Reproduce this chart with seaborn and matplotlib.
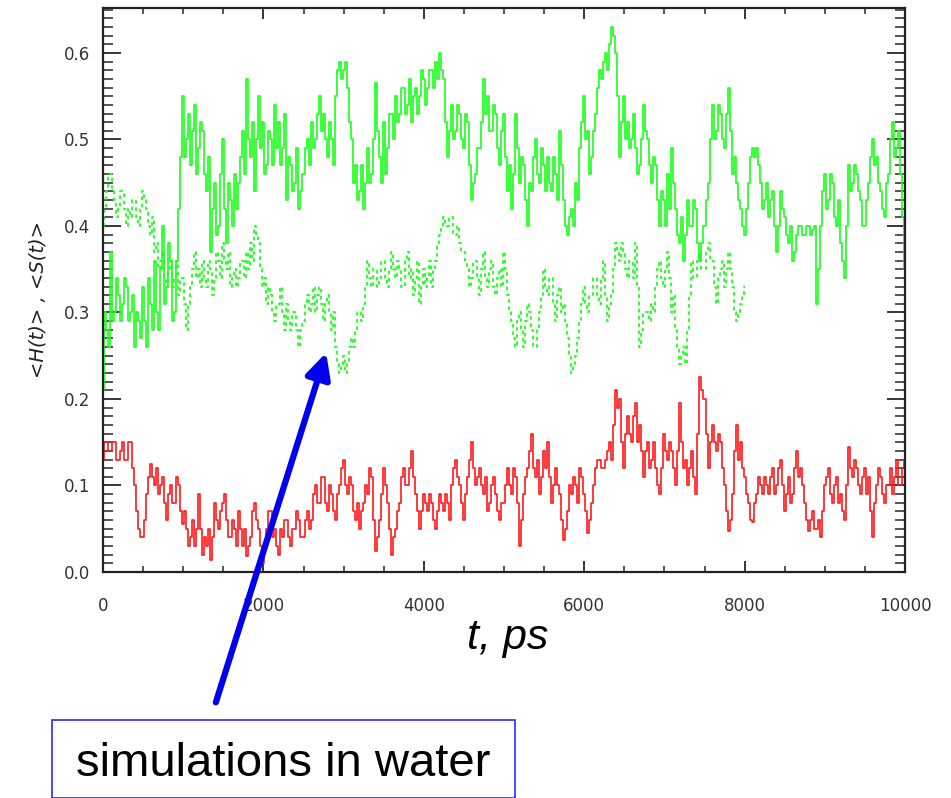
import numpy as np
import pandas as pd
import matplotlib
matplotlib.use("Agg")
import matplotlib.pyplot as plt
import seaborn as sns
from matplotlib.patches import Rectangle, FancyArrowPatch
from matplotlib.ticker import MultipleLocator

# time step of the traces (ps)
dt = 25

# green solid trace, 0..10000 ps
h_water = [
    0.21, 0.30, 0.28, 0.26, 0.37, 0.29, 0.30, 0.34, 0.32, 0.29, 0.31, 0.34, 0.33, 0.29, 0.30, 0.32, 0.26, 0.30, 0.29, 0.27,
    0.33, 0.29, 0.26, 0.34, 0.31, 0.28, 0.36, 0.30, 0.28, 0.35, 0.40, 0.31, 0.33, 0.38, 0.36, 0.29, 0.30, 0.36, 0.42, 0.48,
    0.55, 0.48, 0.50, 0.53, 0.47, 0.51, 0.54, 0.46, 0.49, 0.52, 0.51, 0.46, 0.44, 0.48, 0.37, 0.42, 0.45, 0.39, 0.40, 0.46,
    0.50, 0.42, 0.38, 0.45, 0.43, 0.40, 0.46, 0.42, 0.45, 0.48, 0.51, 0.46, 0.57, 0.50, 0.48, 0.52, 0.44, 0.50, 0.55, 0.49,
    0.52, 0.46, 0.47, 0.51, 0.50, 0.47, 0.54, 0.49, 0.52, 0.47, 0.49, 0.53, 0.43, 0.48, 0.47, 0.44, 0.45, 0.49, 0.42, 0.44,
    0.46, 0.49, 0.50, 0.47, 0.52, 0.49, 0.50, 0.53, 0.55, 0.51, 0.53, 0.50, 0.48, 0.52, 0.50, 0.47, 0.55, 0.58, 0.59, 0.57,
    0.58, 0.59, 0.56, 0.52, 0.50, 0.45, 0.47, 0.43, 0.44, 0.47, 0.42, 0.45, 0.49, 0.45, 0.46, 0.50, 0.565, 0.51, 0.48, 0.45,
    0.52, 0.46, 0.49, 0.53, 0.53, 0.50, 0.55, 0.52, 0.53, 0.56, 0.56, 0.53, 0.54, 0.57, 0.52, 0.55, 0.56, 0.53, 0.55, 0.58,
    0.57, 0.54, 0.56, 0.58, 0.58, 0.56, 0.59, 0.57, 0.60, 0.58, 0.57, 0.52, 0.48, 0.51, 0.54, 0.50, 0.51, 0.54, 0.53, 0.50,
    0.49, 0.53, 0.52, 0.47, 0.43, 0.45, 0.46, 0.49, 0.49, 0.52, 0.57, 0.53, 0.55, 0.51, 0.51, 0.54, 0.53, 0.49, 0.47, 0.51,
    0.53, 0.48, 0.44, 0.47, 0.42, 0.46, 0.53, 0.49, 0.45, 0.48, 0.47, 0.43, 0.40, 0.45, 0.44, 0.48, 0.50, 0.46, 0.45, 0.49,
    0.47, 0.44, 0.48, 0.45, 0.44, 0.48, 0.46, 0.43, 0.51, 0.47, 0.43, 0.40, 0.39, 0.41, 0.42, 0.40, 0.45, 0.43, 0.49, 0.52,
    0.55, 0.50, 0.51, 0.46, 0.48, 0.51, 0.53, 0.56, 0.58, 0.57, 0.59, 0.60, 0.58, 0.61, 0.63, 0.62, 0.60, 0.55, 0.48, 0.52,
    0.55, 0.50, 0.52, 0.49, 0.50, 0.53, 0.49, 0.46, 0.47, 0.50, 0.54, 0.51, 0.50, 0.47, 0.45, 0.48, 0.47, 0.43, 0.40, 0.44,
    0.43, 0.40, 0.46, 0.42, 0.49, 0.45, 0.42, 0.39, 0.38, 0.41, 0.36, 0.39, 0.43, 0.40, 0.40, 0.43, 0.42, 0.38, 0.36, 0.38,
    0.40, 0.43, 0.45, 0.50, 0.54, 0.50, 0.51, 0.54, 0.53, 0.50, 0.49, 0.53, 0.56, 0.51, 0.46, 0.48, 0.45, 0.43, 0.42, 0.40,
    0.39, 0.42, 0.45, 0.48, 0.49, 0.48, 0.49, 0.47, 0.45, 0.42, 0.43, 0.45, 0.41, 0.43, 0.44, 0.40, 0.37, 0.40, 0.44, 0.42,
    0.41, 0.39, 0.38, 0.40, 0.36, 0.37, 0.39, 0.40, 0.40, 0.39, 0.39, 0.40, 0.40, 0.39, 0.395, 0.40, 0.31, 0.35, 0.40, 0.44,
    0.46, 0.42, 0.43, 0.46, 0.45, 0.41, 0.40, 0.43, 0.38, 0.36, 0.34, 0.40, 0.47, 0.44, 0.45, 0.47, 0.46, 0.44, 0.43, 0.40,
    0.40, 0.43, 0.45, 0.48, 0.50, 0.47, 0.48, 0.45, 0.44, 0.42, 0.41, 0.45, 0.46, 0.50, 0.52, 0.48, 0.49, 0.51, 0.46, 0.41,
    0.35,
]

# green dotted trace, 0..8000 ps
s_water = [
    0.40, 0.42, 0.44, 0.46, 0.46, 0.44, 0.43, 0.41, 0.42, 0.44, 0.44, 0.42, 0.40, 0.42, 0.41, 0.43, 0.43, 0.41, 0.40, 0.42,
    0.44, 0.43, 0.42, 0.40, 0.39, 0.41, 0.37, 0.38, 0.35, 0.36, 0.37, 0.34, 0.33, 0.35, 0.36, 0.33, 0.34, 0.36, 0.32, 0.34,
    0.34, 0.31, 0.28, 0.31, 0.33, 0.35, 0.37, 0.34, 0.35, 0.33, 0.36, 0.34, 0.33, 0.36, 0.35, 0.32, 0.34, 0.37, 0.36, 0.34,
    0.38, 0.36, 0.35, 0.37, 0.33, 0.34, 0.35, 0.33, 0.34, 0.36, 0.36, 0.34, 0.37, 0.35, 0.38, 0.36, 0.40, 0.39, 0.38, 0.35,
    0.33, 0.34, 0.31, 0.33, 0.32, 0.30, 0.29, 0.31, 0.31, 0.33, 0.30, 0.28, 0.31, 0.29, 0.28, 0.30, 0.30, 0.28, 0.26, 0.28,
    0.29, 0.31, 0.32, 0.30, 0.31, 0.33, 0.30, 0.32, 0.33, 0.31, 0.29, 0.31, 0.32, 0.30, 0.28, 0.30, 0.26, 0.24, 0.23, 0.24,
    0.25, 0.23, 0.24, 0.26, 0.27, 0.26, 0.28, 0.30, 0.30, 0.29, 0.31, 0.33, 0.36, 0.34, 0.33, 0.35, 0.35, 0.33, 0.34, 0.36,
    0.36, 0.34, 0.33, 0.35, 0.37, 0.35, 0.34, 0.36, 0.35, 0.33, 0.33, 0.36, 0.37, 0.34, 0.35, 0.32, 0.34, 0.36, 0.31, 0.33,
    0.35, 0.33, 0.34, 0.36, 0.33, 0.35, 0.36, 0.38, 0.39, 0.40, 0.41, 0.40, 0.40, 0.41, 0.41, 0.39, 0.39, 0.40, 0.38, 0.37,
    0.37, 0.36, 0.35, 0.33, 0.34, 0.36, 0.36, 0.34, 0.32, 0.35, 0.37, 0.34, 0.33, 0.35, 0.36, 0.33, 0.32, 0.34, 0.35, 0.33,
    0.37, 0.35, 0.32, 0.30, 0.29, 0.27, 0.26, 0.29, 0.30, 0.28, 0.26, 0.29, 0.31, 0.30, 0.28, 0.26, 0.26, 0.28, 0.30, 0.32,
    0.35, 0.33, 0.32, 0.34, 0.34, 0.31, 0.29, 0.32, 0.33, 0.30, 0.31, 0.29, 0.27, 0.25, 0.23, 0.24, 0.25, 0.27, 0.29, 0.31,
    0.33, 0.31, 0.30, 0.32, 0.32, 0.34, 0.34, 0.32, 0.31, 0.34, 0.36, 0.32, 0.29, 0.31, 0.32, 0.35, 0.38, 0.37, 0.36, 0.38,
    0.37, 0.35, 0.34, 0.36, 0.36, 0.34, 0.38, 0.33, 0.26, 0.28, 0.30, 0.30, 0.30, 0.29, 0.31, 0.30, 0.33, 0.35, 0.36, 0.34,
    0.33, 0.35, 0.37, 0.34, 0.30, 0.32, 0.28, 0.26, 0.24, 0.25, 0.26, 0.24, 0.28, 0.32, 0.36, 0.34, 0.34, 0.36, 0.37, 0.35,
    0.35, 0.37, 0.38, 0.36, 0.36, 0.33, 0.31, 0.34, 0.35, 0.36, 0.33, 0.35, 0.37, 0.35, 0.33, 0.30, 0.29, 0.30, 0.31, 0.32,
    0.33,
]

# red solid trace, 0..10000 ps
h_other = [
    0.13, 0.15, 0.15, 0.14, 0.14, 0.15, 0.15, 0.13, 0.13, 0.14, 0.15, 0.13, 0.13, 0.15, 0.15, 0.12, 0.10, 0.07, 0.05, 0.04,
    0.04, 0.06, 0.09, 0.11, 0.125, 0.11, 0.10, 0.12, 0.09, 0.10, 0.11, 0.08, 0.06, 0.09, 0.10, 0.08, 0.08, 0.11, 0.10, 0.07,
    0.055, 0.07, 0.05, 0.03, 0.04, 0.06, 0.03, 0.05, 0.09, 0.05, 0.02, 0.04, 0.03, 0.05, 0.014, 0.04, 0.08, 0.06, 0.05, 0.07,
    0.08, 0.09, 0.06, 0.04, 0.04, 0.06, 0.05, 0.03, 0.07, 0.05, 0.03, 0.05, 0.018, 0.03, 0.04, 0.07, 0.08, 0.06, 0.05, 0.03,
    0.01, 0.03, 0.05, 0.07, 0.07, 0.04, 0.05, 0.03, 0.02, 0.05, 0.04, 0.06, 0.06, 0.04, 0.03, 0.05, 0.05, 0.07, 0.06, 0.04,
    0.04, 0.06, 0.07, 0.05, 0.06, 0.09, 0.10, 0.08, 0.08, 0.11, 0.11, 0.08, 0.07, 0.10, 0.09, 0.07, 0.06, 0.09, 0.10, 0.12,
    0.13, 0.10, 0.09, 0.11, 0.10, 0.07, 0.06, 0.08, 0.05, 0.07, 0.08, 0.10, 0.09, 0.12, 0.11, 0.06, 0.024, 0.04, 0.06, 0.09,
    0.12, 0.10, 0.08, 0.05, 0.02, 0.04, 0.05, 0.07, 0.08, 0.11, 0.12, 0.10, 0.10, 0.12, 0.14, 0.11, 0.09, 0.07, 0.05, 0.07,
    0.09, 0.08, 0.07, 0.09, 0.08, 0.06, 0.05, 0.07, 0.09, 0.08, 0.07, 0.09, 0.08, 0.06, 0.10, 0.12, 0.13, 0.11, 0.10, 0.08,
    0.06, 0.09, 0.11, 0.13, 0.15, 0.12, 0.10, 0.11, 0.12, 0.10, 0.09, 0.11, 0.07, 0.08, 0.10, 0.11, 0.09, 0.07, 0.06, 0.08,
    0.08, 0.10, 0.12, 0.10, 0.09, 0.12, 0.11, 0.08, 0.03, 0.06, 0.09, 0.11, 0.12, 0.14, 0.16, 0.12, 0.11, 0.13, 0.09, 0.11,
    0.14, 0.12, 0.15, 0.11, 0.08, 0.10, 0.12, 0.10, 0.09, 0.06, 0.037, 0.05, 0.07, 0.10, 0.09, 0.11, 0.10, 0.08, 0.12, 0.11,
    0.09, 0.07, 0.045, 0.06, 0.08, 0.10, 0.12, 0.13, 0.13, 0.12, 0.12, 0.13, 0.14, 0.15, 0.13, 0.17, 0.21, 0.19, 0.20, 0.15,
    0.12, 0.16, 0.18, 0.16, 0.15, 0.18, 0.195, 0.15, 0.17, 0.14, 0.11, 0.14, 0.15, 0.12, 0.13, 0.15, 0.12, 0.10, 0.09, 0.12,
    0.16, 0.14, 0.13, 0.15, 0.14, 0.12, 0.10, 0.14, 0.195, 0.15, 0.12, 0.13, 0.10, 0.12, 0.14, 0.11, 0.09, 0.16, 0.226, 0.21,
    0.20, 0.16, 0.12, 0.15, 0.17, 0.15, 0.14, 0.16, 0.15, 0.12, 0.10, 0.07, 0.047, 0.06, 0.09, 0.14, 0.17, 0.13, 0.15, 0.12,
    0.11, 0.09, 0.08, 0.06, 0.058, 0.08, 0.09, 0.11, 0.10, 0.09, 0.11, 0.10, 0.09, 0.11, 0.12, 0.09, 0.10, 0.12, 0.13, 0.10,
    0.07, 0.09, 0.11, 0.08, 0.09, 0.12, 0.14, 0.11, 0.12, 0.10, 0.08, 0.06, 0.047, 0.06, 0.07, 0.05, 0.05, 0.06, 0.041, 0.07,
    0.10, 0.11, 0.12, 0.09, 0.08, 0.10, 0.11, 0.08, 0.09, 0.07, 0.06, 0.10, 0.145, 0.12, 0.11, 0.13, 0.12, 0.10, 0.09, 0.11,
    0.12, 0.09, 0.11, 0.07, 0.041, 0.08, 0.10, 0.12, 0.11, 0.09, 0.08, 0.10, 0.10, 0.12, 0.09, 0.11, 0.13, 0.10, 0.10, 0.12,
    0.13,
]

x_ticks = [0, 2000, 4000, 6000, 8000, 10000]
y_ticks = [0.0, 0.1, 0.2, 0.3, 0.4, 0.5, 0.6]

W, H = 951, 798

sns.set_style("white")
fig = plt.figure(figsize=(W / 100, H / 100), dpi=100)
ax = fig.add_axes([103 / W, 1 - 572 / H, (905 - 103) / W, (572 - 8) / H])

df_h = pd.DataFrame({"t": np.arange(len(h_water)) * dt, "v": h_water})
df_s = pd.DataFrame({"t": np.arange(len(s_water)) * dt, "v": s_water})
df_r = pd.DataFrame({"t": np.arange(len(h_other)) * dt, "v": h_other})

green = "#1aff1a"
red = "#ff1a1a"
sns.lineplot(data=df_r, x="t", y="v", ax=ax, color=red, lw=1.2,
             drawstyle="steps-mid", estimator=None)
sns.lineplot(data=df_s, x="t", y="v", ax=ax, color=green, lw=1.3,
             drawstyle="steps-mid", estimator=None, linestyle=(0, (2, 2)))
sns.lineplot(data=df_h, x="t", y="v", ax=ax, color=green, lw=1.2,
             drawstyle="steps-mid", estimator=None)

ax.set_xlim(0, 10000)
ax.set_ylim(0, 0.652)
ax.set_xticks(x_ticks)
ax.set_yticks(y_ticks)
ax.set_xticklabels([str(v) for v in x_ticks])
ax.set_yticklabels([f"{v:.1f}" for v in y_ticks])
ax.xaxis.set_minor_locator(MultipleLocator(500))
ax.yaxis.set_minor_locator(MultipleLocator(0.01))
ax.set_xlabel("")
ax.set_ylabel("")

for s in ax.spines.values():
    s.set_visible(True)
    s.set_color("#222222")
    s.set_linewidth(1.6)

ax.tick_params(axis="x", which="major", direction="in", length=8, width=1.3,
               top=True, bottom=True, pad=18, labelsize=12, labelcolor="#333333")
ax.tick_params(axis="x", which="minor", direction="in", length=4.5, width=1.1,
               top=True, bottom=True)
ax.tick_params(axis="y", which="major", direction="in", length=13, width=1.3,
               left=True, right=True, pad=9, labelsize=12, labelcolor="#333333")
ax.tick_params(axis="y", which="minor", direction="in", length=7.5, width=1.1,
               left=True, right=True)

fig.text(38 / W, 1 - 300 / H, "<H(t)> , <S(t)>", rotation=90, ha="center",
         va="center", fontsize=14, style="italic", color="#222222")
fig.text(508 / W, 1 - 638 / H, "t, ps", ha="center", va="center",
         fontsize=31, style="italic", family="Liberation Sans", color="black")

# annotation box and arrow
fig.patches.append(Rectangle((52 / W, 0), (515 - 52) / W, (798 - 720) / H,
                             transform=fig.transFigure, fill=False,
                             edgecolor="#2a2aff", lw=1.2))
fig.text(283 / W, 1 - 764 / H, "simulations in water", ha="center",
         va="center", fontsize=34, family="Liberation Sans", color="black")
fig.patches.append(FancyArrowPatch((215 / W, 1 - 705 / H), (327 / W, 1 - 350 / H),
                                   transform=fig.transFigure,
                                   arrowstyle="-|>,head_length=10,head_width=5",
                                   color="#0000ee", lw=4.5, mutation_scale=1.5))

fig.savefig("out.png", dpi=100)
